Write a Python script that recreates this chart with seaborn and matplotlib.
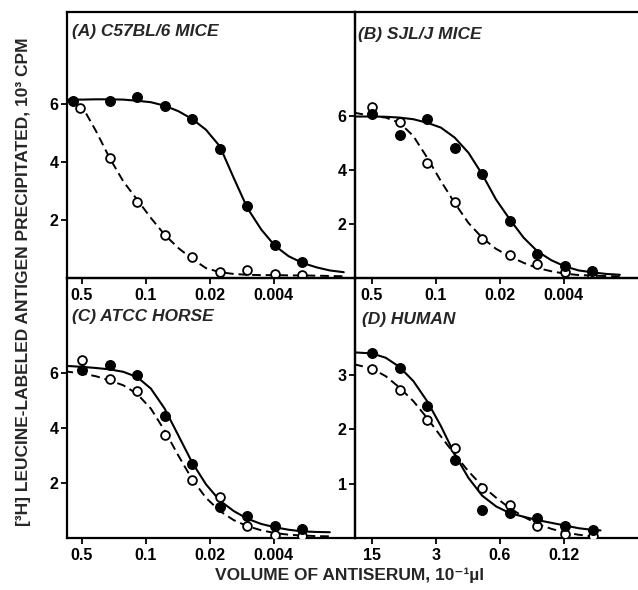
import matplotlib
matplotlib.use("Agg")
import matplotlib.pyplot as plt
import seaborn as sns
from matplotlib.ticker import FixedLocator, FixedFormatter, NullLocator

# ---------------- data ----------------
dil = [0.5, 0.25, 0.125, 0.0625, 0.03125, 0.0156, 0.0078, 0.0039, 0.00195]
dil_D = [15, 7.5, 3.75, 1.875, 0.94, 0.47, 0.234, 0.117, 0.0586]

# fitted-curve knots (half-dilution steps)
curve_x = [0.78, 0.5, 0.354, 0.25, 0.177, 0.125, 0.0884, 0.0625, 0.0442, 0.03125,
           0.0221, 0.0156, 0.011, 0.0078, 0.0055, 0.0039, 0.00276, 0.00195,
           0.00138, 0.00098, 0.00069]
curve_x_D = [23.4, 15, 10.6, 7.5, 5.3, 3.75, 2.65, 1.875, 1.33, 0.94, 0.66, 0.47,
             0.33, 0.234, 0.166, 0.117, 0.083, 0.0586, 0.048]

# (A) C57BL/6 mice
A_filled_x = [0.62, 0.25, 0.125, 0.0625, 0.03125, 0.0156, 0.0078, 0.0039, 0.00195]
A_filled = [6.09, 6.09, 6.24, 5.94, 5.48, 4.43, 2.47, 1.15, 0.55]
A_open_x = [0.53, 0.25, 0.125, 0.0625, 0.03125, 0.0156, 0.0078, 0.0039, 0.00195]
A_open = [5.86, 4.14, 2.62, 1.47, 0.71, 0.21, 0.26, 0.15, 0.10]
A_solid = [6.15, 6.15, 6.16, 6.16, 6.15, 6.11, 6.06, 5.94, 5.75, 5.48, 5.11, 4.54,
           3.45, 2.41, 1.67, 1.11, 0.75, 0.52, 0.37, 0.26, 0.20]
A_dash = [6.15, 5.92, 5.08, 4.14, 3.33, 2.70, 2.07, 1.49, 1.03, 0.66, 0.34, 0.20,
          0.14, 0.11, 0.10, 0.10, 0.09, 0.09, 0.08, 0.07, 0.06]

# (B) SJL/J mice
B_filled = [6.06, 5.28, 5.90, 4.83, 3.84, 2.10, 0.90, 0.46, 0.25]
B_open = [6.35, 5.78, 4.25, 2.82, 1.45, 0.84, 0.52, 0.21, 0.12]
B_solid = [5.98, 5.98, 5.97, 5.94, 5.88, 5.75, 5.57, 5.20, 4.64, 3.84, 2.91, 2.17,
           1.49, 0.99, 0.66, 0.43, 0.28, 0.21, 0.15, 0.12]
B_dash = [6.12, 6.00, 5.94, 5.75, 5.26, 4.46, 3.59, 2.78, 2.04, 1.49, 1.08, 0.80,
          0.56, 0.37, 0.25, 0.16, 0.11, 0.09, 0.07, 0.06]

# (C) ATCC horse
C_filled = [6.10, 6.30, 5.91, 4.45, 2.68, 1.12, 0.79, 0.45, 0.33]
C_open = [6.46, 5.79, 5.33, 3.74, 2.11, 1.50, 0.43, 0.12, 0.09]
C_solid = [6.26, 6.22, 6.18, 6.13, 6.04, 5.85, 5.43, 4.70, 3.72, 2.74, 1.95, 1.36,
           0.98, 0.70, 0.51, 0.39, 0.30, 0.24, 0.22, 0.21]
C_dash = [6.06, 5.98, 5.88, 5.73, 5.55, 5.24, 4.70, 3.90, 2.99, 2.13, 1.46, 0.98,
          0.65, 0.43, 0.28, 0.18, 0.12, 0.09, 0.07, 0.06]

# (D) human
D_filled = [3.40, 3.13, 2.43, 1.43, 0.51, 0.46, 0.37, 0.23, 0.14]
D_open = [3.12, 2.72, 2.18, 1.66, 0.92, 0.61, 0.22, 0.08, 0.03]
D_solid = [3.42, 3.40, 3.32, 3.15, 2.89, 2.52, 2.06, 1.54, 1.11, 0.78, 0.58, 0.46,
           0.39, 0.33, 0.28, 0.23, 0.18, 0.15, 0.14]
D_dash = [3.20, 3.12, 2.98, 2.77, 2.52, 2.21, 1.87, 1.54, 1.23, 0.96, 0.74, 0.55,
          0.39, 0.26, 0.17, 0.10, 0.06, 0.03, 0.02]

xticks_mice = [0.5, 0.1, 0.02, 0.004]
xticklabels_mice = ["0.5", "0.1", "0.02", "0.004"]
xticks_D = [15, 3, 0.6, 0.12]
xticklabels_D = ["15", "3", "0.6", "0.12"]

titles = ["(A) C57BL/6 MICE", "(B) SJL/J MICE", "(C) ATCC HORSE", "(D) HUMAN"]
ylabel = "[³H] LEUCINE-LABELED ANTIGEN PRECIPITATED, 10³ CPM"
xlabel = "VOLUME OF ANTISERUM, 10⁻¹µl"

# ---------------- style ----------------
sns.set_style("ticks")
plt.rcParams['font.family'] = ['Liberation Sans', 'DejaVu Sans']
plt.rcParams['font.weight'] = 'bold'

W, H = 638, 590
fig = plt.figure(figsize=(W / 100, H / 100), dpi=100)
fig.patch.set_facecolor('white')


def pos(l, r, t, b):
    return [l / W, (H - b) / H, (r - l) / W, (b - t) / H]


def panel(ax, cx, cs, cd, xf, yf, xo, yo, xlim, ylim, yt, xt, xtl, title, tx, ty,
          right=True):
    sns.lineplot(x=cx, y=cs, ax=ax, color='black', lw=1.5, estimator=None,
                 sort=False, zorder=2)
    sns.lineplot(x=cx, y=cd, ax=ax, color='black', lw=1.4, estimator=None,
                 sort=False, linestyle=(0, (4.5, 2.5)), zorder=2)
    sns.scatterplot(x=xo, y=yo, ax=ax, s=40, color='white', edgecolor='black',
                    linewidth=1.3, zorder=3)
    sns.scatterplot(x=xf, y=yf, ax=ax, s=50, color='black', edgecolor='black',
                    linewidth=0.8, zorder=4)
    ax.set_xscale('log')
    ax.set_xlim(*xlim)
    ax.set_ylim(*ylim)
    ax.xaxis.set_major_locator(FixedLocator(xt))
    ax.xaxis.set_major_formatter(FixedFormatter(xtl))
    ax.xaxis.set_minor_locator(NullLocator())
    ax.set_yticks(yt)
    ax.set_yticklabels([str(v) for v in yt])
    ax.tick_params(axis='both', direction='out', length=4, width=1.3,
                   labelsize=11.5, colors='black')
    ax.tick_params(axis='x', pad=3)
    ax.tick_params(axis='y', pad=2)
    for lab in ax.get_xticklabels() + ax.get_yticklabels():
        lab.set_fontweight('bold')
    for s in ax.spines.values():
        s.set_linewidth(1.6)
        s.set_color('black')
        s.set_visible(True)
    if not right:
        ax.spines['right'].set_visible(False)
    ax.set_xlabel('')
    ax.set_ylabel('')
    ax.set_facecolor('none')
    ax.text(tx, ty, title, transform=ax.transAxes, fontsize=12.5,
            fontweight='bold', fontstyle='italic', ha='left', va='center')


axA = fig.add_axes(pos(67, 355, 12, 278))
axB = fig.add_axes(pos(355, 638, 12, 278))
axC = fig.add_axes(pos(67, 355, 278, 538))
axD = fig.add_axes(pos(355, 638, 278, 538))

panel(axA, curve_x, A_solid, A_dash, A_filled_x, A_filled, A_open_x, A_open,
      (0.73, 0.00052), (0, 9.17), [2, 4, 6], xticks_mice, xticklabels_mice,
      titles[0], 0.017, 0.925)
panel(axB, curve_x[:20], B_solid, B_dash, dil, B_filled, dil, B_open,
      (0.767, 0.00062), (0, 9.85), [2, 4, 6], xticks_mice, xticklabels_mice,
      titles[1], 0.011, 0.914, right=False)
panel(axC, curve_x[:20], C_solid, C_dash, dil, C_filled, dil, C_open,
      (0.73, 0.00052), (0, 9.45), [2, 4, 6], xticks_mice, xticklabels_mice,
      titles[2], 0.017, 0.85)
panel(axD, curve_x_D, D_solid, D_dash, dil_D, D_filled, dil_D, D_open,
      (23.0, 0.0187), (0, 4.79), [1, 2, 3], xticks_D, xticklabels_D,
      titles[3], 0.025, 0.842, right=False)

fig.text(24 / W, (H - 282) / H, ylabel, rotation=90, ha='center', va='center',
         fontsize=12.5, fontweight='bold')
fig.text(350 / W, (H - 575) / H, xlabel, ha='center', va='center',
         fontsize=12.5, fontweight='bold')

fig.savefig("out.png", dpi=100, facecolor='white')
